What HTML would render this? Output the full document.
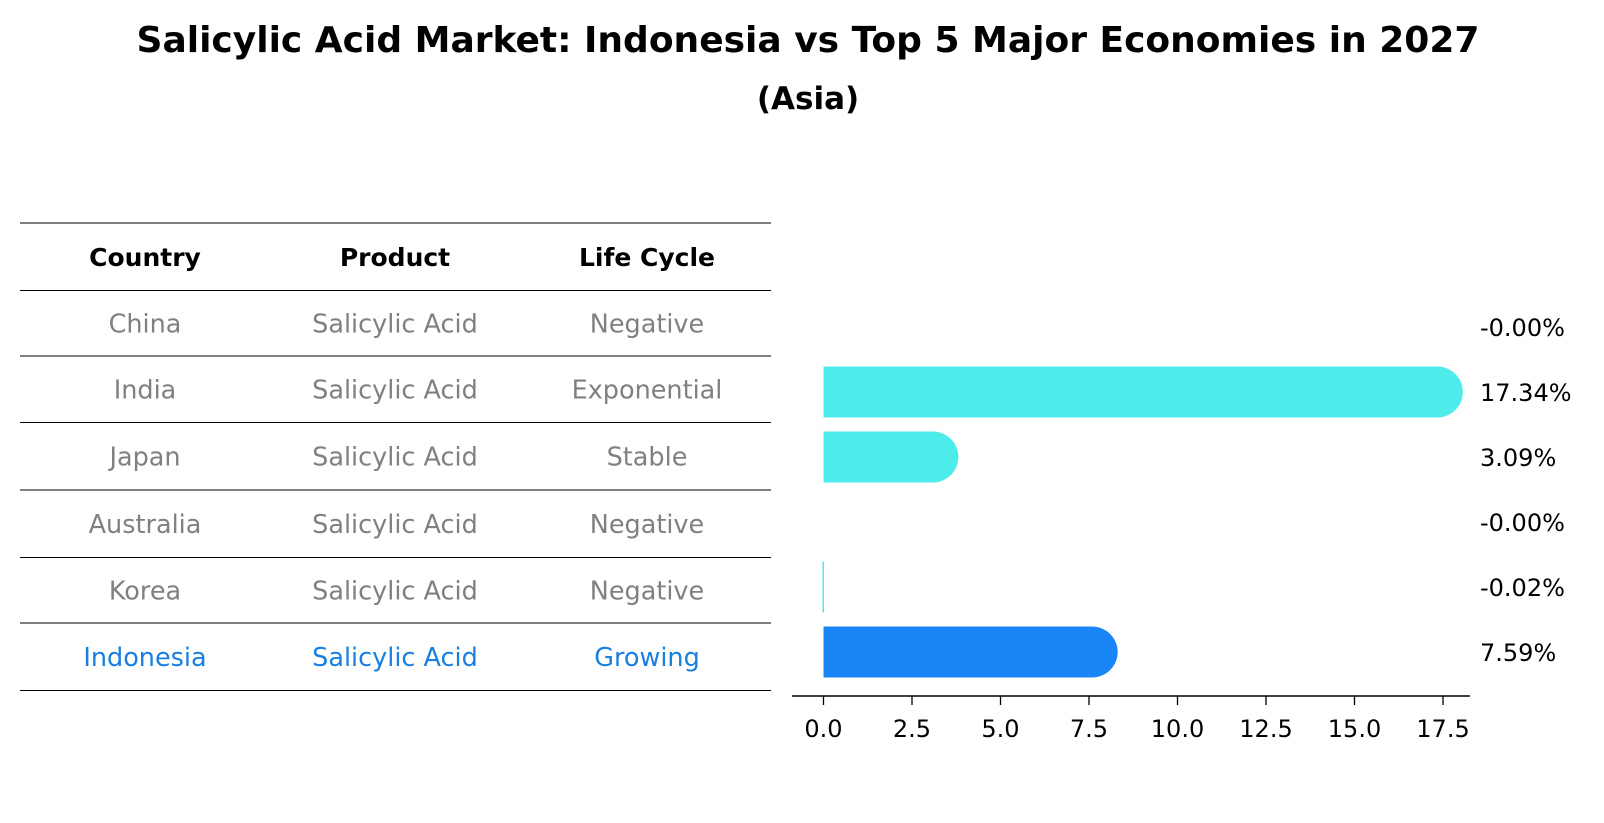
<!DOCTYPE html>
<html><head><meta charset="utf-8"><style>
body{margin:0;background:#fff;font-family:"Liberation Sans","DejaVu Sans",sans-serif;}
#wrap{position:relative;width:1604px;height:823px;overflow:hidden;}
</style></head><body>
<div id="wrap">
<svg id="svg" width="1604" height="823" xmlns="http://www.w3.org/2000/svg" font-family="DejaVu Sans, Liberation Sans, sans-serif">
<text x="808" y="52" text-anchor="middle" font-size="36" font-weight="bold" fill="#000">Salicylic Acid Market: Indonesia vs Top 5 Major Economies in 2027</text>
<text x="808" y="109" text-anchor="middle" font-size="31" font-weight="bold" fill="#000">(Asia)</text>
<g id="table"></g>
<g id="bars"></g>
</svg>
</div>
<script>
const countries=["China","India","Japan","Australia","Korea","Indonesia"];
const products=["Salicylic Acid","Salicylic Acid","Salicylic Acid","Salicylic Acid","Salicylic Acid","Salicylic Acid"];
const lifeCycles=["Negative","Exponential","Stable","Negative","Negative","Growing"];
const values=[-0.0001,17.34,3.09,-0.0001,-0.02,7.59];
const valueLabels=["-0.00%","17.34%","3.09%","-0.00%","-0.02%","7.59%"];
const ticks=[0,2.5,5,7.5,10,12.5,15,17.5];
const tickLabels=["0.0","2.5","5.0","7.5","10.0","12.5","15.0","17.5"];

const NS="http://www.w3.org/2000/svg";
function mk(tag,attrs,parent,text){const e=document.createElementNS(NS,tag);for(const k in attrs)e.setAttribute(k,attrs[k]);if(text!==undefined)e.textContent=text;parent.appendChild(e);return e;}
const tbl=document.getElementById('table');
const lineYs=[223,290.5,356,422.5,490,557.5,623,690.5];
lineYs.forEach((y,i)=>{const l=mk('line',{x1:20,x2:771,y1:y,y2:y,stroke:'#000','stroke-width':1},tbl);

});
const colX=[145,395,647];
["Country","Product","Life Cycle"].forEach((h,i)=>{const t=mk('text',{x:colX[i],y:(lineYs[0]+lineYs[1])/2+9,'text-anchor':'middle','font-size':25,'font-weight':'bold',fill:'#000'},tbl,h);

});
countries.forEach((c,r)=>{const y=(lineYs[r+1]+lineYs[r+2])/2+9;const col=r===5?'#1a7fe0':'#808080';
[c,products[r],lifeCycles[r]].forEach((v,i)=>{const t=mk('text',{x:colX[i],y:y,'text-anchor':'middle','font-size':25.5,fill:col},tbl,v);

});});

const bg=document.getElementById('bars');
const x0=823.5,pxPer=(1443-823.5)/17.5;
const xs=v=>x0+v*pxPer;
const rowY=r=>327+r*65;
const bh=51;
values.forEach((v,r)=>{const cy=rowY(r);const col=r===5?'#1a86f5':'#4deceb';
const w=xs(v)-x0;
if(w>1){const b=mk('path',{d:`M${x0},${cy-bh/2} H${x0+w} A${bh/2},${bh/2} 0 0 1 ${x0+w},${cy+bh/2} H${x0} Z`,fill:col},bg);

}
else if(Math.abs(v)>0.01){const b=mk('rect',{x:x0-1,y:cy-bh/2,width:1.5,height:bh,fill:col},bg);

}
const t=mk('text',{x:1480,y:cy+9,'font-size':24,fill:'#000'},bg,valueLabels[r]);

});
const ax=mk('line',{x1:792,x2:1470,y1:696,y2:696,stroke:'#000','stroke-width':1.5},bg);


ticks.forEach((tv,i)=>{const x=xs(tv);const tk=mk('line',{x1:x,x2:x,y1:696,y2:705,stroke:'#000','stroke-width':1.3},bg);


const t=mk('text',{x:x,y:737,'text-anchor':'middle','font-size':24,fill:'#000'},bg,tickLabels[i]);

});
</script>
</body></html>
